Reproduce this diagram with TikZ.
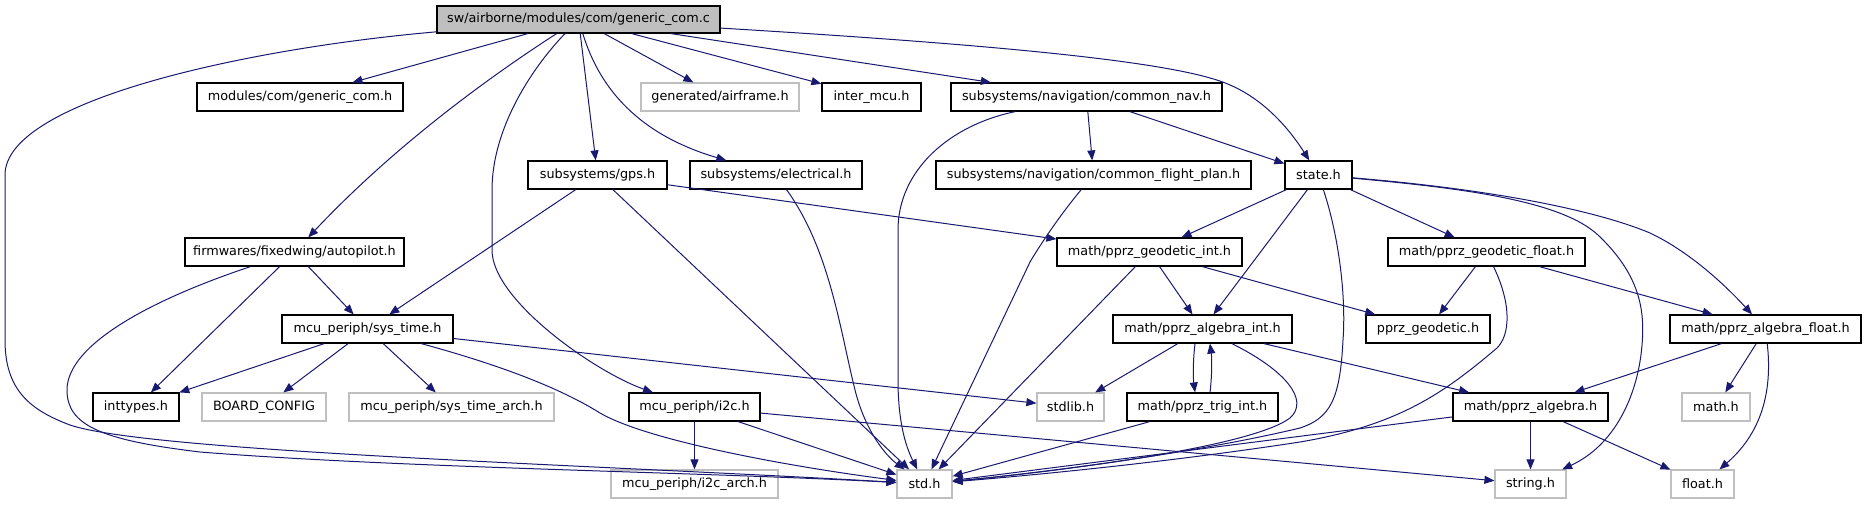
\documentclass[tikz,border=0pt]{standalone}
\usepackage{fontspec}
\setmainfont{DejaVu Sans}
\usepackage{tikz}
\usetikzlibrary{arrows.meta}
\definecolor{edgeblue}{HTML}{191970}
\definecolor{boxgray}{HTML}{BFBFBF}
\tikzset{
  incbox/.style  = {draw=black,fill=white,line width=0.9pt,inner sep=1pt,
                    minimum height=21pt,font=\fontsize{9.6}{11}\selectfont},
  sysbox/.style  = {incbox,draw=boxgray},
  rootbox/.style = {incbox,fill=boxgray,minimum height=20.25pt},
  bw/.style      = {minimum width=#1*0.75pt},
  deparr/.style  = {-{Triangle[length=7.5pt,width=6pt]},edgeblue,line width=0.75pt}
}

\begin{document}
\begin{tikzpicture}[x=0.75pt,y=-0.75pt]
  \useasboundingbox (0,0) rectangle (1865,504);
  % files
  \node[rootbox,bw=283] (root) at (578.5,19.5) {sw/airborne/modules/com/generic\_com.c};
  \node[incbox,bw=206] (genh) at (300,97) {modules/com/generic\_com.h};
  \node[sysbox,bw=158] (airframe) at (720,97) {generated/airframe.h};
  \node[incbox,bw=99] (intermcu) at (871.5,97) {inter\_mcu.h};
  \node[incbox,bw=271] (commonnav) at (1086.5,97) {subsystems/navigation/common\_nav.h};
  \node[incbox,bw=139] (gps) at (597.5,175) {subsystems/gps.h};
  \node[incbox,bw=172] (electrical) at (776,175) {subsystems/electrical.h};
  \node[incbox,bw=315] (flightplan) at (1093.5,175) {subsystems/navigation/common\_flight\_plan.h};
  \node[incbox,bw=67] (state) at (1318.5,175) {state.h};
  \node[incbox,bw=219] (autopilot) at (294.5,252) {firmwares/fixedwing/autopilot.h};
  \node[incbox,bw=185] (geoint) at (1149.5,252) {math/pprz\_geodetic\_int.h};
  \node[incbox,bw=197] (geofloat) at (1486.5,252) {math/pprz\_geodetic\_float.h};
  \node[incbox,bw=171] (systime) at (367.5,329) {mcu\_periph/sys\_time.h};
  \node[incbox,bw=179] (algint) at (1202.5,329) {math/pprz\_algebra\_int.h};
  \node[incbox,bw=124] (geodetic) at (1428,329) {pprz\_geodetic.h};
  \node[incbox,bw=191] (algfloat) at (1765.5,329) {math/pprz\_algebra\_float.h};
  \node[incbox,bw=86] (inttypes) at (136,407) {inttypes.h};
  \node[sysbox,bw=124] (boardcfg) at (264,407) {BOARD\_CONFIG};
  \node[sysbox,bw=205] (systimearch) at (451.5,407) {mcu\_periph/sys\_time\_arch.h};
  \node[incbox,bw=131] (itwoc) at (694.5,407) {mcu\_periph/i2c.h};
  \node[sysbox,bw=67] (stdlib) at (1070.5,407) {stdlib.h};
  \node[incbox,bw=151] (trigint) at (1202.5,407) {math/pprz\_trig\_int.h};
  \node[incbox,bw=155] (algebra) at (1530.5,407) {math/pprz\_algebra.h};
  \node[sysbox,bw=68] (mathh) at (1716,407) {math.h};
  \node[sysbox,bw=167] (itwocarch) at (694.5,484) {mcu\_periph/i2c\_arch.h};
  \node[sysbox,bw=55] (stdh) at (924.5,484) {std.h};
  \node[sysbox,bw=71] (stringh) at (1530.5,484) {string.h};
  \node[sysbox,bw=63] (floath) at (1702.5,484) {float.h};

  % includes of the root file
  \draw[deparr] (root) .. controls (250,48) and (5,100) .. (5,175) -- (5,340)
    .. controls (5,390) and (30,410) .. (70,425) .. controls (150,452) and (600,465) .. (stdh);
  \draw[deparr] (root) -- (genh);
  \draw[deparr] (root) .. controls (500,70) and (400,140) .. (autopilot);
  \draw[deparr] (root) .. controls (530,70) and (492,130) .. (492,190) -- (492,250)
    .. controls (492,300) and (595,372) .. (itwoc);
  \draw[deparr] (root) -- (gps);
  \draw[deparr] (root) .. controls (600,90) and (640,135) .. (electrical);
  \draw[deparr] (root) -- (airframe);
  \draw[deparr] (root) -- (intermcu);
  \draw[deparr] (root) -- (commonnav);
  \draw[deparr] (root) .. controls (1000,45) and (1180,62) .. (1230,85)
    .. controls (1265,100) and (1290,130) .. (state);

  \draw[deparr] (commonnav) .. controls (950,125) and (898,170) .. (898,230) -- (898,380)
    .. controls (898,420) and (905,445) .. (stdh);
  \draw[deparr] (commonnav) -- (flightplan);
  \draw[deparr] (commonnav) -- (state);

  \draw[deparr] (gps) -- (systime);
  \draw[deparr] (gps) -- (stdh);
  \draw[deparr] (gps) -- (geoint);
  \draw[deparr] (electrical) .. controls (830,250) and (840,330) .. (855,390)
    .. controls (865,430) and (885,455) .. (stdh);
  \draw[deparr] (flightplan) .. controls (1060,215) and (1040,245) .. (1030,262) -- (stdh);

  \draw[deparr] (state) -- (geoint);
  \draw[deparr] (state) -- (algint);
  \draw[deparr] (state) .. controls (1340,240) and (1346,300) .. (1343,340)
    .. controls (1340,400) and (1330,418) .. (1300,428) .. controls (1200,452) and (1050,472) .. (stdh);
  \draw[deparr] (state) -- (geofloat);
  \draw[deparr] (state) .. controls (1460,188) and (1560,200) .. (1598,235)
    .. controls (1640,275) and (1645,310) .. (1642,345) .. controls (1638,395) and (1615,445) .. (stringh);
  \draw[deparr] (state) .. controls (1500,190) and (1600,212) .. (1650,233)
    .. controls (1690,252) and (1725,285) .. (algfloat);

  \draw[deparr] (autopilot) .. controls (150,300) and (67,345) .. (67,390)
    .. controls (67,425) and (100,440) .. (200,452) .. controls (400,468) and (700,472) .. (stdh);
  \draw[deparr] (autopilot) -- (inttypes);
  \draw[deparr] (autopilot) -- (systime);

  \draw[deparr] (systime) -- (inttypes);
  \draw[deparr] (systime) -- (boardcfg);
  \draw[deparr] (systime) -- (systimearch);
  \draw[deparr] (systime) .. controls (500,365) and (560,388) .. (600,413)
    .. controls (650,442) and (800,468) .. (stdh);
  \draw[deparr] (systime) -- (stdlib);

  \draw[deparr] (geoint) -- (algint);
  \draw[deparr] (geoint) -- (stdh);
  \draw[deparr] (geoint) -- (geodetic);
  \draw[deparr] (geofloat) -- (geodetic);
  \draw[deparr] (geofloat) .. controls (1512,305) and (1510,335) .. (1497,348)
    .. controls (1445,392) and (1400,425) .. (1300,442) .. controls (1150,465) and (1000,478) .. (stdh);
  \draw[deparr] (geofloat) -- (algfloat);

  \draw[deparr] (algint) -- (stdlib);
  \draw[deparr] ([xshift=-5.6pt]algint.south) .. controls +(-2,15) and +(-2,-15) .. ([xshift=-5.6pt]trigint.north);
  \draw[deparr] ([xshift=5.6pt]trigint.north) .. controls +(2,-15) and +(2,15) .. ([xshift=5.6pt]algint.south);
  \draw[deparr] (algint) .. controls (1285,370) and (1310,400) .. (1290,418)
    .. controls (1250,448) and (1050,472) .. (stdh);
  \draw[deparr] (algint) -- (algebra);
  \draw[deparr] (trigint) -- (stdh);

  \draw[deparr] (algfloat) -- (algebra);
  \draw[deparr] (algfloat) -- (mathh);
  \draw[deparr] (algfloat) .. controls (1772,385) and (1765,430) .. (floath);
  \draw[deparr] (algebra) -- (stdh);
  \draw[deparr] (algebra) -- (stringh);
  \draw[deparr] (algebra) -- (floath);

  \draw[deparr] (itwoc) -- (itwocarch);
  \draw[deparr] (itwoc) -- (stdh);
  \draw[deparr] (itwoc) -- (stringh);
\end{tikzpicture}
\end{document}
